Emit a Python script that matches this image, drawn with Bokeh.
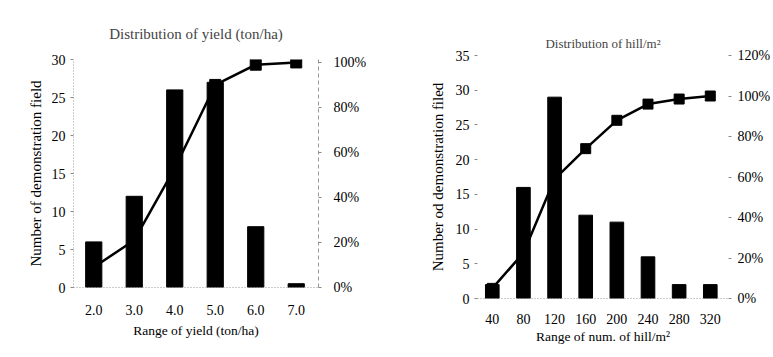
from bokeh.plotting import figure
from bokeh.models import Range1d, LinearAxis, FixedTicker, NumeralTickFormatter
from bokeh.layouts import row, column
from bokeh.embed import file_html
from bokeh.resources import INLINE

# Left chart: distribution of yield
yield_x = [2.0, 3.0, 4.0, 5.0, 6.0, 7.0]
yield_counts = [6, 12, 26, 27, 8, 0.5]
yield_cum = [0.09, 0.21, 0.53, 0.90, 0.99, 1.00]

# Right chart: distribution of hill/m2
hill_x = [40, 80, 120, 160, 200, 240, 280, 320]
hill_counts = [2, 16, 29, 12, 11, 6, 2, 2]
hill_cum = [0.05, 0.225, 0.59, 0.74, 0.88, 0.96, 0.985, 1.00]

FONT = "Liberation Serif"


def style_axis(ax, size="14px"):
    ax.axis_line_color = "#999999"
    ax.axis_line_dash = "1 2"
    ax.axis_line_width = 1
    ax.major_tick_line_color = "#888888"
    ax.major_tick_in = 0
    ax.major_tick_out = 3
    ax.minor_tick_line_color = None
    ax.major_label_text_font = FONT
    ax.major_label_text_font_size = size
    ax.major_label_text_color = "black"
    ax.axis_label_text_font = FONT
    ax.axis_label_text_font_style = "normal"
    ax.axis_label_text_color = "black"


def make(xs, counts, cum, xr, yr_max, pr_max, bar_w, width, borders, title,
         title_size, xlabel, ylabel, yticks, pticks, xfmt, msize, title_standoff,
         xlab_standoff, xtitle_standoff, ylab_standoff, plab_standoff):
    p = figure(width=width, height=357, output_backend="svg",
               toolbar_location=None, x_range=Range1d(*xr),
               y_range=Range1d(0, yr_max),
               min_border_left=borders[0], min_border_right=borders[1],
               min_border_top=borders[2], min_border_bottom=borders[3])
    p.title.text = title
    p.title.text_font = FONT
    p.title.text_font_style = "normal"
    p.title.text_font_size = title_size
    p.title.align = "center"
    p.title.standoff = title_standoff
    p.outline_line_color = None
    p.xgrid.visible = False
    p.ygrid.visible = False
    p.background_fill_color = "white"
    p.border_fill_color = "white"

    p.extra_y_ranges = {"pct": Range1d(0, pr_max)}

    p.vbar(x=xs, top=counts, width=bar_w, color="black")
    p.line(x=xs, y=cum, y_range_name="pct", line_color="black", line_width=2.5)
    p.scatter(x=xs, y=cum, y_range_name="pct", marker="square",
              size=msize, color="black")

    xa = p.xaxis[0]
    style_axis(xa)
    xa.ticker = FixedTicker(ticks=xs)
    if xfmt:
        xa.formatter = NumeralTickFormatter(format=xfmt)
    xa.axis_label = xlabel
    xa.axis_label_text_font_size = "13.5px"
    xa.major_label_standoff = xlab_standoff
    xa.axis_label_standoff = xtitle_standoff
    xa.major_tick_line_color = None

    ya = p.yaxis[0]
    style_axis(ya)
    ya.ticker = FixedTicker(ticks=yticks)
    ya.axis_label = ylabel
    ya.axis_label_text_font_size = "15px"
    ya.major_label_standoff = 5
    ya.axis_label_standoff = ylab_standoff

    ra = LinearAxis(y_range_name="pct")
    style_axis(ra)
    ra.ticker = FixedTicker(ticks=pticks)
    ra.formatter = NumeralTickFormatter(format="0%")
    ra.major_label_standoff = plab_standoff
    ra.axis_line_dash = "4 3"
    p.add_layout(ra, "right")
    return p


p1 = make(yield_x, yield_counts, yield_cum, (1.5, 7.55), 30, 1.013, 0.4, 388,
          (73, 70, 59, 70), "Distribution of yield (ton/ha)", "15px",
          "Range of yield (ton/ha)", "Number of demonstration field",
          [0, 5, 10, 15, 20, 25, 30], [0, 0.2, 0.4, 0.6, 0.8, 1.0], "0.0", 11,
          35, 14, 5, 5, 12)

p2 = make(hill_x, hill_counts, hill_cum, (21, 343.4), 35, 1.2, 17.5, 385,
          (89, 44, 55, 59), "Distribution of hill/m²", "13px",
          "Range of num. of hill/m²", "Number od demonstration filed",
          [0, 5, 10, 15, 20, 25, 30, 35], [0, 0.2, 0.4, 0.6, 0.8, 1.0, 1.2],
          None, 10, 10, 12, 2, 7, 6)
p2.yaxis[0].axis_line_color = None
p2.yaxis[1].axis_line_color = None

layout = row(column(p1), column(p2))
open("out.html", "w").write(file_html(layout, INLINE))
